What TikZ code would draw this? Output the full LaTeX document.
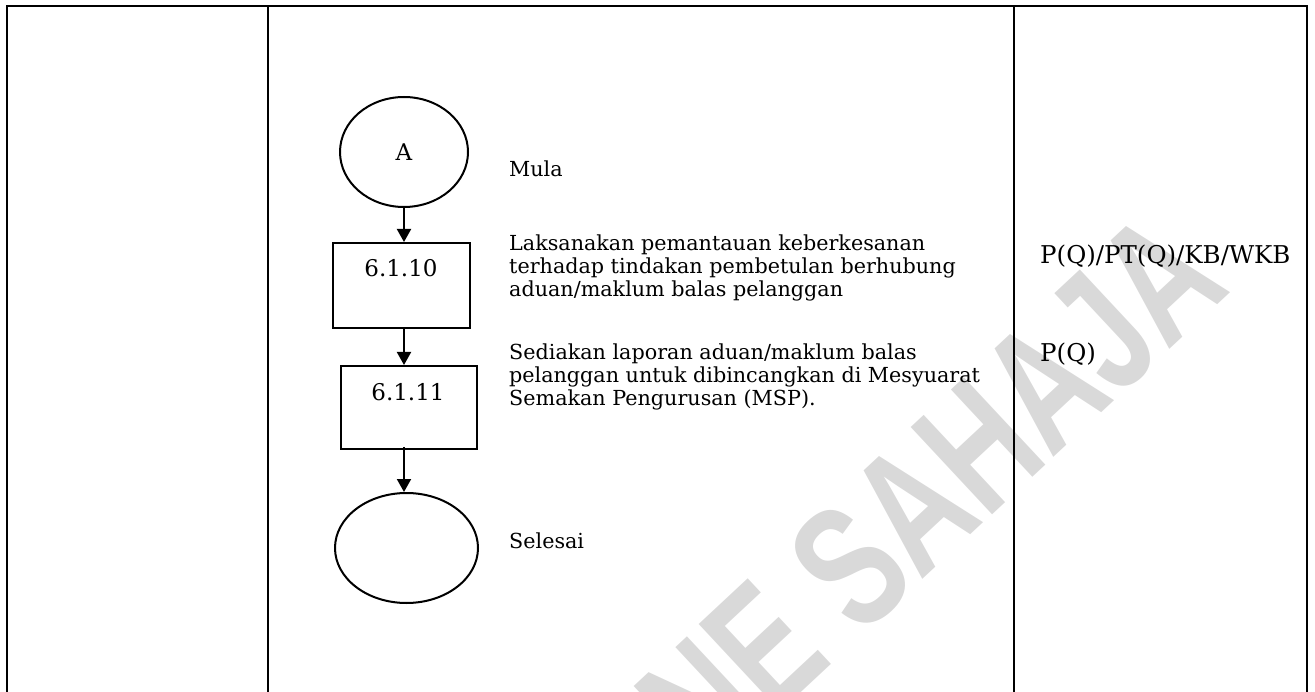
\documentclass[tikz,border=0pt]{standalone}
\usepackage{fontspec}
\usepackage{graphicx}
\setmainfont{DejaVu Serif}
\newfontfamily\wmfont{Liberation Sans}
\usetikzlibrary{arrows.meta,shapes.geometric}
\definecolor{wm}{RGB}{217,217,217}
\begin{document}
\begin{tikzpicture}[x=1pt,y=-1pt,
  tabline/.style={line width=2pt},
  txt/.style={font=\fontsize{20.7}{23}\selectfont, align=left, inner sep=0pt, anchor=north west},
  rtxt/.style={font=\fontsize{24.5}{28}\selectfont, inner sep=0pt, anchor=west},
  numtxt/.style={font=\fontsize{23}{26}\selectfont, inner sep=0pt},
  term/.style={draw, ellipse, line width=2pt, inner sep=0pt, font=\fontsize{23}{26}\selectfont},
  stepbox/.style={draw, rectangle, line width=2pt, inner sep=0pt},
  arr/.style={line width=2pt, -{Triangle[length=13pt,width=14pt]}}]
\useasboundingbox (0,0) rectangle (1315,692);
% watermark
\node[font=\wmfont\bfseries\fontsize{124}{124}\selectfont, text=wm, rotate=43, inner sep=0pt] (wm) at (822,592) {\scalebox{1}[1.4]{ONLINE SAHAJA}};
% table
\draw[tabline] (7,692) -- (7,6) -- (1307,6) -- (1307,692);
\draw[tabline] (268,6) -- (268,692);
\draw[tabline] (1014,6) -- (1014,692);
% flow
\node[term, minimum width=128pt, minimum height=110pt] (a) at (404,152) {A};
\node[stepbox, minimum width=137pt, minimum height=85pt] (b1) at (401.5,285.5) {};
\node[numtxt] (b1t) at (401,268) {6.1.10};
\node[stepbox, minimum width=136pt, minimum height=83pt] (b2) at (409,407.5) {};
\node[numtxt] (b2t) at (408,392) {6.1.11};
\node[term, minimum width=143pt, minimum height=110pt] (e) at (406.5,548) {};
\coordinate (b2out) at (404,447);
\draw[arr] (a.south) -- (a.south |- b1.north);
\draw[arr] (a.south |- b1.south) -- (a.south |- b2.north);
\draw[arr] (b2out) -- (b2out |- e.north);
% labels
\node[txt, anchor=west] (mula) at (509,169) {Mula};
\node[txt] (l1) at (509,235) {Laksanakan pemantauan keberkesanan\\terhadap tindakan pembetulan berhubung\\aduan/maklum balas pelanggan};
\node[txt] (l2) at (509,344) {Sediakan laporan aduan/maklum balas\\pelanggan untuk dibincangkan di Mesyuarat\\Semakan Pengurusan (MSP).};
\node[txt, anchor=west] (sel) at (509,541) {Selesai};
\node[rtxt] (r1) at (1040,256) {P(Q)/PT(Q)/KB/WKB};
\node[rtxt] (r2) at (1040,354) {P(Q)};
\end{tikzpicture}
\end{document}
